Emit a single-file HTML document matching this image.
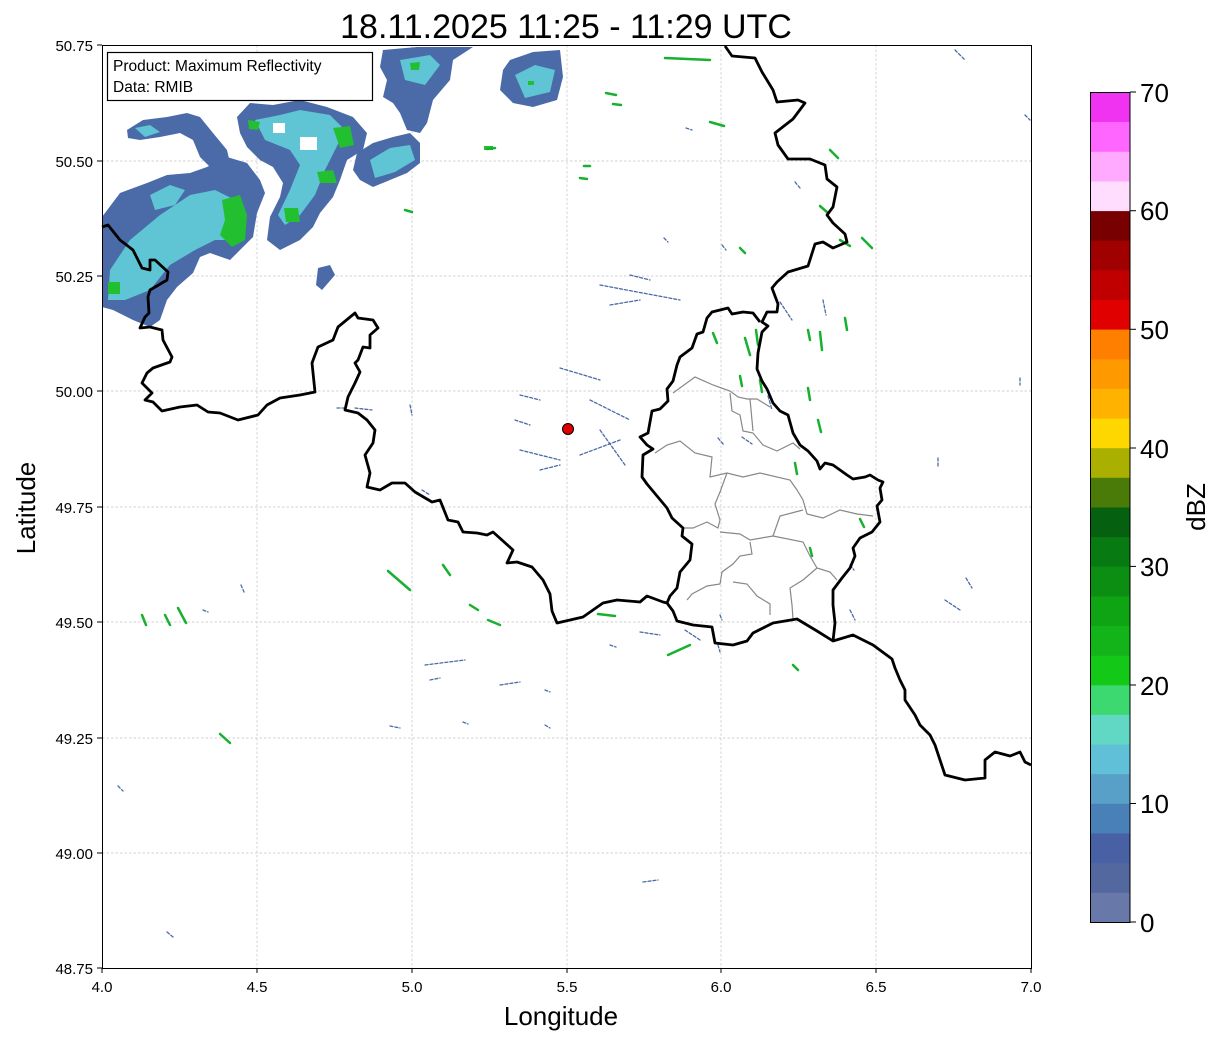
<!DOCTYPE html>
<html><head><meta charset="utf-8"><style>
html,body{margin:0;padding:0;background:#fff;}
svg{display:block;font-family:"Liberation Sans","DejaVu Sans",sans-serif;}
</style></head><body>
<svg width="1219" height="1040" viewBox="0 0 1219 1040" xmlns="http://www.w3.org/2000/svg">
<rect width="1219" height="1040" fill="#fff"/>
<text x="566" y="38" font-size="34" text-anchor="middle" fill="#000">18.11.2025 11:25 - 11:29 UTC</text>
<!-- grid -->
<g stroke="#c4c4c4" stroke-width="0.7" stroke-dasharray="2.5,2">
<line x1="257" y1="45" x2="257" y2="968"/><line x1="412" y1="45" x2="412" y2="968"/><line x1="567" y1="45" x2="567" y2="968"/><line x1="721" y1="45" x2="721" y2="968"/><line x1="876" y1="45" x2="876" y2="968"/>
<line x1="102" y1="853" x2="1031" y2="853"/><line x1="102" y1="738" x2="1031" y2="738"/><line x1="102" y1="622" x2="1031" y2="622"/><line x1="102" y1="507" x2="1031" y2="507"/><line x1="102" y1="391" x2="1031" y2="391"/><line x1="102" y1="276" x2="1031" y2="276"/><line x1="102" y1="161" x2="1031" y2="161"/>
</g>
<!-- radar blobs -->
<g stroke="none">
<polygon fill="#4a6aa8" points="102,217 120,193 147,183 167,175 190,173 207,167 227,157 247,163 260,180 265,193 257,213 253,237 240,250 230,260 210,253 200,257 193,273 177,287 167,300 160,320 150,327 133,320 113,310 102,307"/>
<polygon fill="#4a6aa8" points="127,130 143,120 167,117 187,113 200,117 213,133 227,150 230,163 210,167 200,157 193,140 180,133 160,137 140,140 128,138"/>
<polygon fill="#4a6aa8" points="237,117 250,103 273,105 300,100 327,107 353,117 367,133 363,150 347,160 340,180 333,197 320,213 313,227 300,240 280,250 267,240 270,217 280,197 283,183 273,167 260,160 247,147 240,133"/>
<polygon fill="#4a6aa8" points="357,153 373,143 393,137 410,133 420,143 420,163 407,173 390,180 373,187 360,180 353,170"/>
<polygon fill="#4a6aa8" points="383,50 417,47 473,47 453,60 450,80 433,100 427,123 420,133 407,130 400,113 393,103 383,97 387,80 380,67"/>
<polygon fill="#4a6aa8" points="510,60 533,52 560,50 563,77 557,100 533,107 513,103 500,90 503,70"/>
<polygon fill="#4a6aa8" points="318,268 330,265 335,275 322,290 316,285"/>
<g fill="#5fc4d4">
<polygon points="110,270 130,240 160,215 190,195 215,190 235,200 245,225 235,240 215,240 195,250 170,265 150,290 125,300 108,300"/>
<polygon points="150,195 170,185 185,190 175,205 155,210"/>
<polygon points="255,120 280,115 300,110 330,115 345,130 335,150 325,170 315,195 300,215 285,225 278,215 290,190 300,165 290,150 265,140"/>
<polygon points="370,160 390,148 410,145 415,160 395,172 375,178"/>
<polygon points="400,60 430,55 440,65 425,85 405,80"/>
<polygon points="515,75 535,65 555,70 550,92 525,98"/>
<polygon points="135,128 150,125 160,132 145,137"/>
</g>
<rect x="300" y="137" width="17" height="13" fill="#fff"/>
<rect x="273" y="123" width="12" height="10" fill="#fff"/>
<g fill="#22c030">
<polygon points="222,200 240,195 247,215 245,240 232,247 220,235 225,220"/>
<polygon points="333,128 350,126 354,145 340,148"/>
<polygon points="317,172 333,170 337,183 320,183"/>
<polygon points="284,208 298,208 300,222 286,222"/>
<polygon points="248,120 260,122 258,130 249,129"/>
<polygon points="410,63 420,62 419,70 411,70"/>
<rect x="528" y="81" width="6" height="4"/><rect x="484" y="146" width="9" height="4"/>
<rect x="108" y="282" width="12" height="12"/>
</g>
</g>
<!-- scattered echoes -->
<g stroke-width="2.5" stroke-linecap="round" fill="none">
<g stroke="#18b030">
<line x1="606" y1="93" x2="616" y2="95"/><line x1="613" y1="104" x2="621" y2="105"/><line x1="710" y1="122" x2="724" y2="126"/><line x1="580" y1="178" x2="587" y2="179"/><line x1="584" y1="166" x2="590" y2="166"/><line x1="487" y1="149" x2="495" y2="148"/><line x1="665" y1="58" x2="710" y2="60"/><line x1="820" y1="206" x2="828" y2="213"/><line x1="840" y1="240" x2="850" y2="246"/><line x1="862" y1="238" x2="872" y2="248"/><line x1="740" y1="248" x2="745" y2="253"/><line x1="745" y1="338" x2="750" y2="355"/><line x1="756" y1="330" x2="758" y2="345"/><line x1="808" y1="330" x2="810" y2="340"/><line x1="820" y1="332" x2="822" y2="350"/><line x1="845" y1="318" x2="847" y2="330"/><line x1="808" y1="388" x2="810" y2="400"/><line x1="818" y1="420" x2="821" y2="432"/><line x1="795" y1="463" x2="797" y2="474"/><line x1="740" y1="376" x2="742" y2="386"/><line x1="760" y1="380" x2="762" y2="392"/><line x1="388" y1="571" x2="410" y2="590"/><line x1="443" y1="565" x2="450" y2="575"/><line x1="470" y1="605" x2="478" y2="610"/><line x1="488" y1="620" x2="500" y2="625"/><line x1="598" y1="614" x2="615" y2="616"/><line x1="668" y1="655" x2="690" y2="645"/><line x1="220" y1="734" x2="230" y2="743"/><line x1="165" y1="615" x2="170" y2="625"/><line x1="178" y1="608" x2="186" y2="623"/><line x1="142" y1="615" x2="146" y2="625"/><line x1="793" y1="665" x2="798" y2="670"/><line x1="405" y1="210" x2="412" y2="212"/><line x1="830" y1="150" x2="838" y2="158"/><line x1="713" y1="333" x2="717" y2="343"/><line x1="810" y1="548" x2="812" y2="556"/><line x1="860" y1="519" x2="864" y2="527"/></g>
<g stroke="#4a6aa8" stroke-width="1.3" stroke-dasharray="3,2">
<line x1="955" y1="50" x2="965" y2="60"/><line x1="1025" y1="115" x2="1030" y2="120"/><line x1="686" y1="128" x2="692" y2="130"/><line x1="664" y1="238" x2="668" y2="242"/><line x1="795" y1="182" x2="800" y2="188"/><line x1="722" y1="245" x2="726" y2="250"/><line x1="823" y1="300" x2="826" y2="315"/><line x1="410" y1="405" x2="412" y2="415"/><line x1="520" y1="395" x2="540" y2="400"/><line x1="560" y1="368" x2="600" y2="380"/><line x1="590" y1="400" x2="630" y2="420"/><line x1="520" y1="450" x2="560" y2="460"/><line x1="580" y1="455" x2="620" y2="440"/><line x1="515" y1="420" x2="530" y2="425"/><line x1="600" y1="430" x2="625" y2="465"/><line x1="540" y1="470" x2="560" y2="465"/><line x1="720" y1="615" x2="722" y2="620"/><line x1="718" y1="645" x2="720" y2="652"/><line x1="685" y1="630" x2="700" y2="640"/><line x1="610" y1="645" x2="616" y2="647"/><line x1="640" y1="632" x2="660" y2="635"/><line x1="425" y1="665" x2="465" y2="660"/><line x1="500" y1="685" x2="520" y2="682"/><line x1="390" y1="726" x2="400" y2="728"/><line x1="430" y1="680" x2="440" y2="678"/><line x1="545" y1="690" x2="550" y2="692"/><line x1="463" y1="722" x2="468" y2="724"/><line x1="545" y1="725" x2="550" y2="728"/><line x1="643" y1="882" x2="658" y2="880"/><line x1="167" y1="932" x2="173" y2="937"/><line x1="118" y1="786" x2="123" y2="791"/><line x1="241" y1="585" x2="244" y2="592"/><line x1="203" y1="610" x2="208" y2="612"/><line x1="938" y1="458" x2="938" y2="466"/><line x1="1020" y1="378" x2="1020" y2="385"/><line x1="966" y1="578" x2="972" y2="588"/><line x1="355" y1="408" x2="372" y2="410"/><line x1="337" y1="408" x2="345" y2="408"/><line x1="422" y1="490" x2="430" y2="495"/><line x1="600" y1="285" x2="680" y2="300"/><line x1="630" y1="275" x2="650" y2="280"/><line x1="610" y1="305" x2="640" y2="300"/><line x1="780" y1="302" x2="792" y2="320"/><line x1="768" y1="396" x2="772" y2="410"/><line x1="718" y1="438" x2="724" y2="445"/><line x1="742" y1="437" x2="752" y2="444"/><line x1="945" y1="600" x2="960" y2="610"/><line x1="850" y1="610" x2="855" y2="620"/><line x1="850" y1="565" x2="854" y2="570"/></g>
</g>
<!-- Luxembourg cantons -->
<g fill="none" stroke="#888" stroke-width="1.2">
<polyline points="673,393 695,377 713,385 730,391 738,397 747,399 757,399 770,407"/>
<polyline points="730,393 732,411 740,415 743,431 753,433 763,445 777,451 793,443 800,449"/>
<polyline points="750,399 753,431"/>
<polyline points="655,453 667,445 680,441 695,453 712,457 710,477 727,473 743,477 760,473 790,480 797,490 803,500 807,514 823,518 840,510 857,514 873,516"/>
<polyline points="727,473 720,492 715,504 720,520 718,528 707,522 693,528 683,528"/>
<polyline points="720,532 740,534 750,540 773,536 803,542 810,556 817,568 830,572 837,580"/>
<polyline points="773,536 780,516 803,510"/>
<polyline points="750,542 752,554 740,556 733,564 722,572 720,584 707,586 692,594 687,600"/>
<polyline points="733,582 747,584 757,596 770,604 770,615"/>
<polyline points="817,568 803,580 790,588 792,605 793,619"/>
</g>
<!-- borders -->
<g fill="none" stroke="#000" stroke-width="2.8" stroke-linejoin="round">
<polyline points="102,227 108,225 120,240 133,250 142,268 150,270 150,260 155,260 168,272 167,280 150,290 148,297 149,313 145,317 140,328 150,327 162,330 163,340 172,357 170,362 153,368 147,373 142,383 152,393 145,400 153,402 162,411 180,407 197,405 208,412 220,413 238,420 258,415 267,405 280,398 300,395 315,392 312,363 318,347 333,340 338,327 355,313 358,318 373,320 378,328 370,335 370,348 363,347 358,360 355,363 360,372 355,383 348,397 345,410 358,413 367,420 375,430 373,443 365,455 370,473 367,487 380,490 392,483 405,483 415,492 432,502 440,500 448,520 458,522 463,532 477,533 487,535 493,532 513,550 507,563 517,562 532,567 543,580 550,594 552,611 557,623 583,617 603,603 617,600 640,602 647,596 663,602 667,603 673,611 677,621 693,625 712,627 715,643 733,645 747,641 753,633 773,623 797,619 817,631 833,641 853,635 873,645 892,659 895,668 900,680 905,690 905,700 915,715 920,725 930,735 935,745 940,760 945,775 965,780 985,778 985,760 995,752 1010,756 1020,752 1025,762 1031,765"/>
<polyline points="667,603 670,596 677,588 680,572 690,560 692,544 682,536 683,528 672,518 667,508 657,496 647,484 642,477 643,455 653,449 647,445 640,437 648,433 652,411 660,409 668,401 667,389 673,381 677,365 680,357 692,348 697,334 703,332 707,318 712,312 728,308 732,314 743,312 753,313 760,322"/>
<polyline points="725,46 732,56 755,58 762,72 773,90 777,102 798,100 805,103 793,119 775,133 778,145 788,159 803,159 810,159 825,165 827,179 837,187 833,207 827,215 833,223 845,234 847,242 833,248 823,242 815,244 808,266 788,272 777,282 772,288 778,304 777,312 767,312 762,322 768,326 762,332 758,353 757,369 762,381 767,389 773,403 780,411 788,415 793,433 800,445 808,451 817,461 820,469 825,463 833,465 847,475 853,479 865,477 870,475 878,480 883,482 880,488 882,500 877,506 880,522 872,532 860,538 853,548 855,556 850,568 842,578 833,590 833,605 835,623 833,641"/>
</g>
<circle cx="568" cy="429" r="5.5" fill="#e00000" stroke="#000" stroke-width="1"/>
<rect x="107.5" y="52.5" width="265" height="48" fill="#fff" stroke="#000" stroke-width="1.2"/>
<text x="113" y="71" font-size="15.5">Product: Maximum Reflectivity</text>
<text x="113" y="92" font-size="15.5">Data: RMIB</text>
<rect x="102.5" y="45.5" width="929" height="923" fill="none" stroke="#000" stroke-width="1"/>
<g stroke="#000" stroke-width="1">
<line x1="102" y1="968" x2="102" y2="973"/><line x1="257" y1="968" x2="257" y2="973"/><line x1="412" y1="968" x2="412" y2="973"/><line x1="567" y1="968" x2="567" y2="973"/><line x1="721" y1="968" x2="721" y2="973"/><line x1="876" y1="968" x2="876" y2="973"/><line x1="1031" y1="968" x2="1031" y2="973"/>
<line x1="97" y1="45" x2="102" y2="45"/><line x1="97" y1="161" x2="102" y2="161"/><line x1="97" y1="276" x2="102" y2="276"/><line x1="97" y1="391" x2="102" y2="391"/><line x1="97" y1="507" x2="102" y2="507"/><line x1="97" y1="622" x2="102" y2="622"/><line x1="97" y1="738" x2="102" y2="738"/><line x1="97" y1="853" x2="102" y2="853"/><line x1="97" y1="968" x2="102" y2="968"/>
</g>
<g font-size="15" text-anchor="middle">
<text x="102" y="992">4.0</text><text x="257" y="992">4.5</text><text x="412" y="992">5.0</text><text x="567" y="992">5.5</text><text x="721" y="992">6.0</text><text x="876" y="992">6.5</text><text x="1031" y="992">7.0</text>
</g>
<g font-size="15" text-anchor="end">
<text x="93" y="51">50.75</text><text x="93" y="167">50.50</text><text x="93" y="282">50.25</text><text x="93" y="397">50.00</text><text x="93" y="513">49.75</text><text x="93" y="628">49.50</text><text x="93" y="744">49.25</text><text x="93" y="859">49.00</text><text x="93" y="974">48.75</text>
</g>
<text x="561" y="1025" font-size="26" text-anchor="middle">Longitude</text>
<text transform="translate(35,508) rotate(-90)" font-size="26" text-anchor="middle">Latitude</text>
<g>
<rect x="1090" y="892.4" width="40" height="30" fill="#6878a8"/>
<rect x="1090" y="862.8" width="40" height="30" fill="#5468a0"/>
<rect x="1090" y="833.1" width="40" height="30" fill="#4860a4"/>
<rect x="1090" y="803.5" width="40" height="30" fill="#4a80b8"/>
<rect x="1090" y="773.8" width="40" height="30" fill="#58a0c8"/>
<rect x="1090" y="744.2" width="40" height="30" fill="#60c0d8"/>
<rect x="1090" y="714.6" width="40" height="30" fill="#60d8c4"/>
<rect x="1090" y="684.9" width="40" height="30" fill="#3cd870"/>
<rect x="1090" y="655.3" width="40" height="30" fill="#14c818"/>
<rect x="1090" y="625.7" width="40" height="30" fill="#12b41a"/>
<rect x="1090" y="596" width="40" height="30" fill="#0ea414"/>
<rect x="1090" y="566.4" width="40" height="30" fill="#0c8e12"/>
<rect x="1090" y="536.7" width="40" height="30" fill="#087a12"/>
<rect x="1090" y="507.1" width="40" height="30" fill="#056010"/>
<rect x="1090" y="477.5" width="40" height="30" fill="#4a7a08"/>
<rect x="1090" y="447.8" width="40" height="30" fill="#aab000"/>
<rect x="1090" y="418.2" width="40" height="30" fill="#ffd700"/>
<rect x="1090" y="388.6" width="40" height="30" fill="#ffb300"/>
<rect x="1090" y="358.9" width="40" height="30" fill="#ff9900"/>
<rect x="1090" y="329.3" width="40" height="30" fill="#ff7f00"/>
<rect x="1090" y="299.6" width="40" height="30" fill="#e00000"/>
<rect x="1090" y="270" width="40" height="30" fill="#c00000"/>
<rect x="1090" y="240.4" width="40" height="30" fill="#a00000"/>
<rect x="1090" y="210.7" width="40" height="30" fill="#780000"/>
<rect x="1090" y="181.1" width="40" height="30" fill="#ffddff"/>
<rect x="1090" y="151.5" width="40" height="30" fill="#ffaaff"/>
<rect x="1090" y="121.8" width="40" height="30" fill="#ff66ff"/>
<rect x="1090" y="92" width="40" height="30" fill="#f033f0"/>
<rect x="1090.5" y="92.5" width="39.5" height="830" fill="none" stroke="#000" stroke-width="1"/>
<g stroke="#000" stroke-width="1">
<line x1="1130" y1="922" x2="1136" y2="922"/><line x1="1130" y1="803.5" x2="1136" y2="803.5"/><line x1="1130" y1="685" x2="1136" y2="685"/><line x1="1130" y1="566.4" x2="1136" y2="566.4"/><line x1="1130" y1="448" x2="1136" y2="448"/><line x1="1130" y1="329.3" x2="1136" y2="329.3"/><line x1="1130" y1="210.7" x2="1136" y2="210.7"/><line x1="1130" y1="92" x2="1136" y2="92"/>
</g>
<g font-size="26">
<text x="1140" y="932">0</text><text x="1140" y="813">10</text><text x="1140" y="695">20</text><text x="1140" y="576">30</text><text x="1140" y="458">40</text><text x="1140" y="339">50</text><text x="1140" y="220">60</text><text x="1140" y="102">70</text>
</g>
<text transform="translate(1205,507) rotate(-90)" font-size="26" text-anchor="middle">dBZ</text>
</g>
</svg>
</body></html>
